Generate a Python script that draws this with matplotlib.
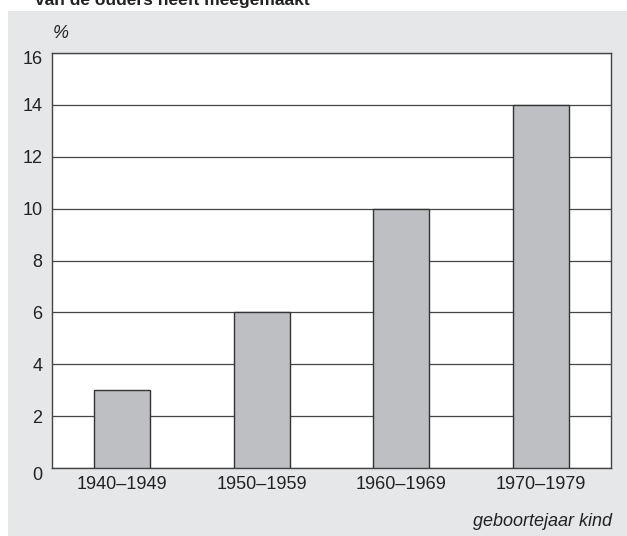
import matplotlib.pyplot as plt
from matplotlib.patches import Rectangle
from matplotlib.transforms import ScaledTranslation

plt.rcParams['font.family'] = ['Liberation Sans', 'DejaVu Sans']

categories = ['1940–1949', '1950–1959', '1960–1969', '1970–1979']
values = [3, 6, 10, 14]
yticks = [0, 2, 4, 6, 8, 10, 12, 14, 16]

fig = plt.figure(figsize=(6.27, 5.36), dpi=100)
fig.patch.set_facecolor('white')

# grey panel behind the chart
fig.patches.append(Rectangle((8 / 627, 0), 1 - 8 / 627, 1 - 11 / 536,
                             transform=fig.transFigure, facecolor='#e6e7e9',
                             edgecolor='none', zorder=-5))

# title, clipped at the top edge like in the source
fig.text(35 / 627, 1.0, 'van de ouders heeft meegemaakt', fontsize=12.5,
         fontweight='bold', ha='left', va='center', color='#222222')

ax = fig.add_axes([52 / 627, 68 / 536, 559 / 627, 415 / 536])
ax.set_zorder(2)
ax.set_facecolor('white')

x = range(len(categories))
ax.bar(x, values, width=0.4, color='#bebfc3', edgecolor='#333333',
       linewidth=1, zorder=3)

ax.set_xlim(-0.5, 3.5)
ax.set_ylim(0, 16)
ax.set_yticks(yticks)
ax.set_xticks(list(x))
ax.set_xticklabels(categories)
ax.grid(axis='y', color='#444444', linewidth=0.9, zorder=1)
ax.set_axisbelow(True)
ax.tick_params(length=0, labelsize=13, colors='#222222')
ax.tick_params(axis='y', pad=7)
ax.tick_params(axis='x', pad=6)
for s in ax.spines.values():
    s.set_color('#444444')
    s.set_linewidth(1)

# the 0 and 16 labels sit a bit lower than their lines in the source
ylabels = ax.get_yticklabels()
for lab, dy in ((ylabels[0], -6), (ylabels[-1], -4)):
    lab.set_transform(lab.get_transform() + ScaledTranslation(0, dy / 100, fig.dpi_scale_trans))

fig.text(53 / 627, 1 - 33 / 536, '%', fontsize=13, style='italic',
         ha='left', va='center', color='#222222')
fig.text(612 / 627, 1 - 522 / 536, 'geboortejaar kind', fontsize=13,
         style='italic', ha='right', va='center', color='#222222')

fig.savefig('out.png', dpi=100)
